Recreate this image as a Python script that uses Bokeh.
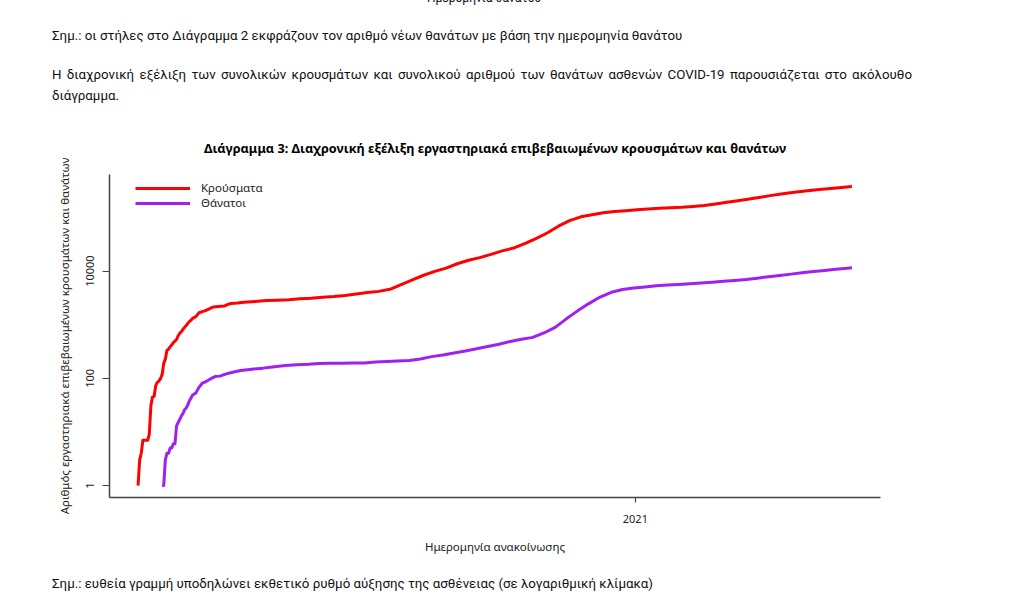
import math
import pandas as pd
from bokeh.plotting import figure
from bokeh.layouts import column
from bokeh.models import (FixedTicker, DatetimeTickFormatter, PrintfTickFormatter,
                          Range1d, Legend, LegendItem, ColumnDataSource, Div, Title)
from bokeh.embed import file_html
from bokeh.resources import INLINE

# ---------------- data ----------------
case_dates = [
    "2020-02-26", "2020-02-27", "2020-02-28", "2020-02-29", "2020-03-01", "2020-03-03",
    "2020-03-04", "2020-03-05", "2020-03-06", "2020-03-07", "2020-03-08", "2020-03-09",
    "2020-03-10", "2020-03-11", "2020-03-12", "2020-03-13", "2020-03-14", "2020-03-15",
    "2020-03-16", "2020-03-17", "2020-03-18", "2020-03-19", "2020-03-20", "2020-03-21",
    "2020-03-22", "2020-03-23", "2020-03-24", "2020-03-25", "2020-03-26", "2020-03-27",
    "2020-03-28", "2020-03-29", "2020-03-30", "2020-03-31", "2020-04-02", "2020-04-04",
    "2020-04-06", "2020-04-08", "2020-04-10", "2020-04-13", "2020-04-16", "2020-04-20",
    "2020-04-22", "2020-04-24", "2020-04-28", "2020-05-02", "2020-05-09", "2020-05-16",
    "2020-05-23", "2020-05-30", "2020-06-06", "2020-06-13", "2020-06-20", "2020-06-27",
    "2020-07-04", "2020-07-11", "2020-07-18", "2020-07-25", "2020-08-01", "2020-08-08",
    "2020-08-15", "2020-08-22", "2020-08-29", "2020-09-05", "2020-09-12", "2020-09-19",
    "2020-09-26", "2020-10-03", "2020-10-10", "2020-10-17", "2020-10-24", "2020-10-31",
    "2020-11-07", "2020-11-14", "2020-11-21", "2020-11-28", "2020-12-05", "2020-12-12",
    "2020-12-19", "2020-12-26", "2021-01-02", "2021-01-09", "2021-01-16", "2021-01-23",
    "2021-01-30", "2021-02-06", "2021-02-13", "2021-02-20", "2021-02-27", "2021-03-06",
    "2021-03-13", "2021-03-20", "2021-03-27", "2021-04-03", "2021-04-10", "2021-04-17",
    "2021-04-24", "2021-05-01", "2021-05-08", "2021-05-16",
]
case_values = [
    1, 3, 4, 7, 7, 7,
    9, 31, 45, 46, 73, 84,
    89, 99, 117, 190, 228, 331,
    352, 387, 418, 464, 495, 530,
    624, 695, 743, 821, 892, 966,
    1061, 1156, 1212, 1314, 1415, 1673,
    1755, 1832, 1955, 2145, 2192, 2245,
    2401, 2490, 2534, 2620, 2710, 2819,
    2873, 2915, 3049, 3112, 3256, 3366,
    3519, 3732, 3983, 4193, 4587, 5623,
    6858, 8381, 9913, 11386, 13730, 15928,
    17887, 20541, 23844, 26969, 32500, 40500,
    51500, 68993, 87309, 103034, 112658, 123100,
    128975, 134000, 140099, 145000, 149000, 152500,
    155500, 161000, 168000, 179000, 192000, 206000,
    222000, 239000, 259000, 278000, 296000, 314000,
    330000, 345000, 361000, 380000,
]

death_dates = [
    "2020-03-12", "2020-03-13", "2020-03-14", "2020-03-15", "2020-03-16", "2020-03-17",
    "2020-03-18", "2020-03-19", "2020-03-20", "2020-03-21", "2020-03-22", "2020-03-23",
    "2020-03-24", "2020-03-25", "2020-03-26", "2020-03-27", "2020-03-28", "2020-03-29",
    "2020-03-30", "2020-03-31", "2020-04-02", "2020-04-04", "2020-04-06", "2020-04-08",
    "2020-04-10", "2020-04-12", "2020-04-14", "2020-04-17", "2020-04-21", "2020-04-25",
    "2020-04-30", "2020-05-07", "2020-05-14", "2020-05-21", "2020-05-28", "2020-06-04",
    "2020-06-11", "2020-06-18", "2020-06-25", "2020-07-02", "2020-07-09", "2020-07-16",
    "2020-07-23", "2020-07-30", "2020-08-06", "2020-08-13", "2020-08-20", "2020-08-27",
    "2020-09-03", "2020-09-10", "2020-09-17", "2020-09-24", "2020-10-01", "2020-10-08",
    "2020-10-15", "2020-10-22", "2020-10-29", "2020-11-05", "2020-11-12", "2020-11-19",
    "2020-11-26", "2020-12-03", "2020-12-10", "2020-12-17", "2020-12-24", "2020-12-31",
    "2021-01-07", "2021-01-14", "2021-01-21", "2021-01-28", "2021-02-04", "2021-02-11",
    "2021-02-18", "2021-02-25", "2021-03-04", "2021-03-11", "2021-03-18", "2021-03-25",
    "2021-04-01", "2021-04-08", "2021-04-15", "2021-04-22", "2021-04-29", "2021-05-06",
    "2021-05-13", "2021-05-16",
]
death_values = [
    1, 1, 3, 4, 4, 5,
    5, 6, 6, 13, 15, 17,
    20, 22, 26, 28, 32, 38,
    43, 49, 53, 68, 81, 86,
    93, 101, 108, 110, 121, 130,
    140, 148, 155, 165, 173, 180,
    183, 190, 191, 192, 193, 193,
    201, 206, 210, 216, 229, 254,
    273, 297, 324, 357, 393, 433,
    488, 538, 581, 702, 893, 1288,
    1815, 2480, 3289, 4025, 4556, 4838,
    5051, 5322, 5512, 5636, 5811, 6000,
    6200, 6450, 6700, 7000, 7400, 7850,
    8300, 8800, 9300, 9800, 10300, 10800,
    11300, 11600,
]

series_names = ["Κρούσματα", "Θάνατοι"]
y_ticks = [1, 100, 10000]
x_tick_dates = ["2021-01-01"]
x_tick_format = "%Y"

chart_title = "Διάγραμμα 3: Διαχρονική εξέλιξη εργαστηριακά επιβεβαιωμένων κρουσμάτων και θανάτων"
y_label = "Αριθμός εργαστηριακά επιβεβαιωμένων κρουσμάτων και θανάτων"
x_label = "Ημερομηνία ανακοίνωσης"
prev_caption = "Ημερομηνία θανάτου"
note_top = "Σημ.: οι στήλες στο Διάγραμμα 2 εκφράζουν τον αριθμό νέων θανάτων με βάση την ημερομηνία θανάτου"
para_line1 = ("Η διαχρονική εξέλιξη των συνολικών κρουσμάτων και συνολικού αριθμού των θανάτων "
              "ασθενών COVID-19 παρουσιάζεται στο ακόλουθο")
para_line2 = "διάγραμμα."
note_bottom = "Σημ.: ευθεία γραμμή υποδηλώνει εκθετικό ρυθμό αύξησης της ασθένειας (σε λογαριθμική κλίμακα)"

# ---------------- layout constants ----------------
W = 1019
TOP_H = 110
FIG_H = 566 - TOP_H
BOT_H = 28
FONT = "Noto Sans"
DOC_FONT = "Roboto"
DOC_SIZE = 13.3

# ---------------- figure ----------------
cd = pd.to_datetime(case_dates)
dd = pd.to_datetime(death_dates)
src_c = ColumnDataSource(dict(x=cd, y=case_values))
src_d = ColumnDataSource(dict(x=dd, y=death_values))

xmin = min(cd.min(), dd.min())
xmax = max(cd.max(), dd.max())
span = xmax - xmin
x0 = xmin - span * 0.04
x1 = xmax + span * 0.04

lmin = math.log10(min(min(case_values), min(death_values)))
lmax = math.log10(max(max(case_values), max(death_values)))
lspan = lmax - lmin
y0 = 10 ** (lmin - 0.04 * lspan)
y1 = 10 ** (lmax + 0.04 * lspan)

title = Title(text=chart_title, align="center", text_font=FONT, text_font_size="12.7px",
              text_font_style="bold", text_color="#000000", standoff=36)

p = figure(width=W, height=FIG_H, x_axis_type="datetime", y_axis_type="log",
           x_range=Range1d(x0, x1), y_range=Range1d(y0, y1), title=title,
           output_backend="svg", toolbar_location=None,
           min_border_left=109, min_border_right=W - 880,
           min_border_top=174 - TOP_H, min_border_bottom=TOP_H + FIG_H - 497)
p.outline_line_color = None
p.grid.visible = False
p.background_fill_color = "white"
p.border_fill_color = "white"

r_c = p.line("x", "y", source=src_c, line_color="#FF0000", line_width=3, line_join="round")
r_d = p.line("x", "y", source=src_d, line_color="#A020F0", line_width=3, line_join="round")

AX = "#444444"
tick_ms = [pd.Timestamp(d).value // 10**6 for d in x_tick_dates]
p.xaxis.ticker = FixedTicker(ticks=tick_ms, minor_ticks=[])
p.xaxis.formatter = DatetimeTickFormatter(
    microseconds=x_tick_format, milliseconds=x_tick_format, seconds=x_tick_format,
    minsec=x_tick_format, minutes=x_tick_format, hourmin=x_tick_format,
    hours=x_tick_format, days=x_tick_format, months=x_tick_format, years=x_tick_format)
p.yaxis.ticker = FixedTicker(ticks=y_ticks, minor_ticks=[])
p.yaxis.formatter = PrintfTickFormatter(format="%d")
p.yaxis.major_label_orientation = "vertical"

for ax in (p.xaxis[0], p.yaxis[0]):
    ax.axis_line_color = AX
    ax.axis_line_width = 1.5
    ax.major_tick_line_color = AX
    ax.major_tick_line_width = 1.2
    ax.minor_tick_line_color = None
    ax.major_tick_in = 0
    ax.major_label_text_font = FONT
    ax.major_label_text_font_size = "11px"
    ax.major_label_text_color = "#222222"
    ax.axis_label_text_font = FONT
    ax.axis_label_text_font_size = "11.5px"
    ax.axis_label_text_font_style = "normal"
    ax.axis_label_text_color = "#222222"

p.yaxis.major_tick_out = 7
p.yaxis.major_label_standoff = 8
p.yaxis.axis_label = y_label
p.yaxis.axis_label_standoff = 12
p.xaxis.major_tick_out = 5
p.xaxis.major_label_standoff = 12
p.xaxis.axis_label = x_label
p.xaxis.axis_label_standoff = 13

legend = Legend(items=[LegendItem(label=series_names[0], renderers=[r_c]),
                       LegendItem(label=series_names[1], renderers=[r_d])],
                location=(26, 287), padding=0, margin=0, spacing=-1,
                glyph_width=55, glyph_height=14, label_height=14, label_standoff=11,
                label_text_font=FONT, label_text_font_size="11.5px", label_text_color="#222222",
                border_line_color=None, background_fill_alpha=0)
p.add_layout(legend)

# ---------------- document texts around the chart ----------------
def abs_text(text, left, center_y, size, font=DOC_FONT, bold=False, width=None,
             align="left", justify=False, color="#111111"):
    lh = 16
    style = (f"position:absolute;left:{left}px;top:{center_y - lh / 2}px;"
             f"font-family:'{font}';font-size:{size}px;line-height:{lh}px;"
             f"color:{color};white-space:nowrap;text-align:{align};"
             f"font-weight:{'bold' if bold else 'normal'};")
    if width is not None:
        style += f"width:{width}px;"
    if justify:
        style += "white-space:normal;text-align:justify;text-align-last:justify;"
    return f'<div style="{style}">{text}</div>'

top_html = (f'<div style="position:relative;width:{W}px;height:{TOP_H}px;overflow:hidden;">'
            + abs_text(prev_caption, 0, -2, 12, width=968, align="center")
            + abs_text(note_top, 52, 36, DOC_SIZE)
            + abs_text(para_line1, 52, 75, DOC_SIZE, width=860, justify=True)
            + abs_text(para_line2, 52, 96, DOC_SIZE)
            + '</div>')
bot_html = (f'<div style="position:relative;width:{W}px;height:{BOT_H}px;overflow:hidden;">'
            + abs_text(note_bottom, 52, 584 - TOP_H - FIG_H, DOC_SIZE)
            + '</div>')

top_div = Div(text=top_html, width=W, height=TOP_H, margin=0)
bot_div = Div(text=bot_html, width=W, height=BOT_H, margin=0)

layout = column(top_div, p, bot_div, spacing=0, margin=0)

open("out.html", "w").write(file_html(layout, INLINE))
